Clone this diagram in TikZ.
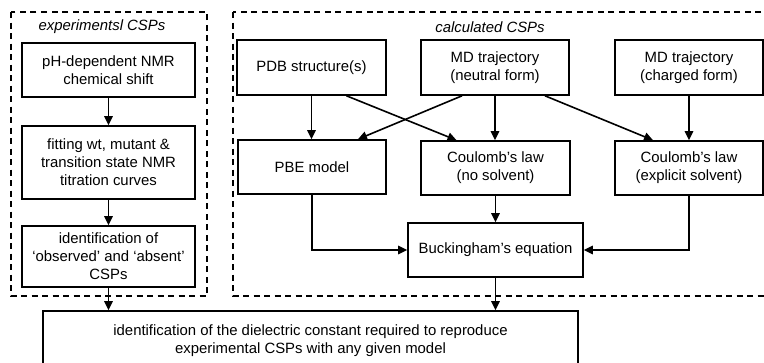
\documentclass[tikz,border=0pt]{standalone}
\usepackage{fontspec}
\setmainfont{Liberation Sans}
\usetikzlibrary{arrows.meta}

\begin{document}
\begin{tikzpicture}[x=1pt,y=-1pt,
		font=\fontsize{14.9}{18}\selectfont,
		stage/.style={draw,line width=1.6pt,align=center,inner sep=0pt},
		group/.style={draw,line width=1.6pt,dash pattern=on 6pt off 4.5pt},
		flow/.style={line width=1.6pt,-{Triangle[length=9pt,width=8.5pt]}}]
			\useasboundingbox (0,0) rectangle (764,362);
			% dashed groups
			\draw [group] (11,12) rectangle (207,296);
			\draw [group] (233,12) rectangle (780,296);
			\node (exptitle) at (102,27) {\itshape experimentsl CSPs};
			\node (calctitle) at (490,27) {\itshape calculated CSPs};
			% experimental CSPs
			\node [stage, minimum width=173pt, minimum height=54pt] (phnmr) at (108.5,70) {pH-dependent NMR\\chemical shift};
			\node [stage, minimum width=173pt, minimum height=73pt] (fitting) at (108.5,162.5) {fitting wt, mutant \&\\transition state NMR\\titration curves};
			\node [stage, minimum width=173pt, minimum height=61pt] (ident) at (108.5,256.5) {identification of\\‘observed’ and ‘absent’\\CSPs};
			% calculated CSPs
			\node [stage, minimum width=149pt, minimum height=55pt] (pdb) at (311.5,67.5) {PDB structure(s)};
			\node [stage, minimum width=148pt, minimum height=55pt] (mdn) at (495,67.5) {MD trajectory\\(neutral form)};
			\node [stage, minimum width=148pt, minimum height=55pt] (mdc) at (689,67.5) {MD trajectory\\(charged form)};
			\node [stage, minimum width=148pt, minimum height=54pt] (pbe) at (312,167) {PBE model};
			\node [stage, minimum width=149pt, minimum height=54pt] (cnos) at (495.5,168) {Coulomb’s law\\(no solvent)};
			\node [stage, minimum width=148pt, minimum height=54pt] (cexp) at (689,168) {Coulomb’s law\\(explicit solvent)};
			\node [stage, minimum width=175pt, minimum height=54pt] (buck) at (495.5,250) {Buckingham’s equation};
			% result
			\node [stage, minimum width=535pt, minimum height=60pt] (final) at (310.5,341) {identification of the dielectric constant required to reproduce\\experimental CSPs with any given model};
			% arrows
			\draw [flow] (phnmr) -- (fitting);
			\draw [flow] (fitting) -- (ident);
			\draw [flow] (ident.south) -- (ident.south |- final.north);
			\draw [flow] (pdb.south) -- (pdb.south |- pbe.north);
			\draw [flow] ([xshift=35pt]pdb.south) -- ([xshift=-39pt]cnos.north);
			\draw [flow] ([xshift=-33pt]mdn.south) -- ([xshift=46pt]pbe.north);
			\draw [flow] (mdn.south) -- (mdn.south |- cnos.north);
			\draw [flow] ([xshift=50pt]mdn.south) -- ([xshift=-36pt]cexp.north);
			\draw [flow] (mdc) -- (cexp);
			\draw [flow] (pbe.south) |- (buck.west);
			\draw [flow] (cnos) -- (buck);
			\draw [flow] (cexp.south) |- (buck.east);
			\draw [flow] (buck.south) -- (buck.south |- final.north);
		\end{tikzpicture}
\end{document}
